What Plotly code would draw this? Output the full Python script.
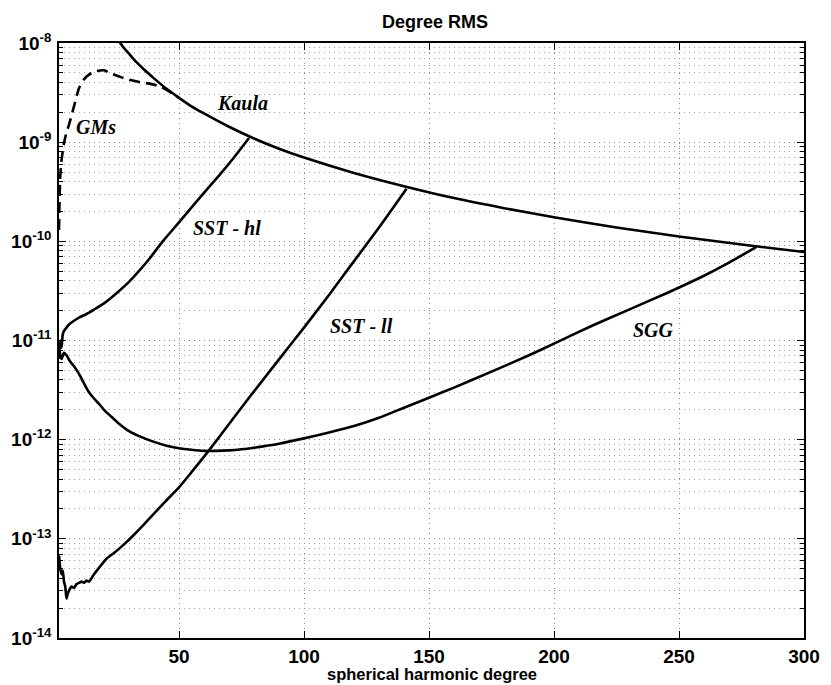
import plotly.graph_objects as go

# ---------------- data ----------------
kaula_deg = [24, 26, 28, 30, 33, 36, 40, 45, 50, 55, 60, 70, 80, 90, 100, 120, 140, 160, 180, 200, 225, 250, 275, 300]
kaula_rms = [1.22e-8, 1.04e-8, 8.9e-9, 7.8e-9, 6.4e-9, 5.4e-9, 4.4e-9, 3.45e-9, 2.8e-9, 2.3e-9, 1.95e-9,
             1.43e-9, 1.09e-9, 8.6e-10, 7.0e-10, 4.9e-10, 3.6e-10, 2.73e-10, 2.16e-10, 1.75e-10, 1.38e-10,
             1.12e-10, 9.3e-11, 7.8e-11]

gms_deg = [2, 2.2, 2.5, 3, 4, 5, 6, 8, 10, 12, 14, 17, 20, 23, 27, 31, 35, 39, 43, 46, 50]
gms_rms = [1.3e-10, 2.5e-10, 4.5e-10, 6.5e-10, 9.8e-10, 1.25e-9, 1.5e-9, 2.3e-9, 3.5e-9, 4.3e-9, 4.8e-9,
           5.2e-9, 5.3e-9, 4.9e-9, 4.5e-9, 4.2e-9, 4.0e-9, 3.85e-9, 3.6e-9, 3.25e-9, 2.8e-9]

sst_hl_deg = [2, 2.5, 3, 3.5, 4, 5, 6, 8, 10, 13, 16, 20, 25, 30, 33.3, 38, 43.5, 50, 58, 66, 72, 78]
sst_hl_rms = [6.5e-12, 1.0e-11, 8.5e-12, 1.15e-11, 1.25e-11, 1.35e-11, 1.45e-11, 1.58e-11, 1.7e-11, 1.85e-11,
              2.05e-11, 2.37e-11, 3.0e-11, 3.9e-11, 4.8e-11, 6.6e-11, 1.0e-10, 1.55e-10, 2.7e-10, 4.6e-10,
              7.0e-10, 1.1e-9]

sst_ll_deg = [2, 2.5, 3, 3.5, 4, 4.5, 5, 5.5, 6, 7, 8, 9, 10, 11, 12, 13, 14, 16, 18, 21, 24, 28, 32, 36, 40,
              45, 50, 55, 62, 71, 79, 90, 100, 110, 118, 130, 141]
sst_ll_rms = [6.8e-14, 5.0e-14, 4.4e-14, 4.8e-14, 3.7e-14, 3.3e-14, 2.5e-14, 2.8e-14, 3.0e-14, 3.3e-14, 3.2e-14,
              3.5e-14, 3.6e-14, 3.7e-14, 3.6e-14, 3.8e-14, 3.7e-14, 4.4e-14, 5.1e-14, 6.3e-14, 7.2e-14, 8.8e-14,
              1.1e-13, 1.4e-13, 1.8e-13, 2.45e-13, 3.3e-13, 4.7e-13, 7.8e-13, 1.55e-12, 2.85e-12, 6.45e-12,
              1.35e-11, 2.88e-11, 5.4e-11, 1.38e-10, 3.4e-10]

sgg_deg = [2, 3, 4, 5, 6, 7, 8, 9, 10, 12, 14, 16, 18, 20, 23, 26, 30, 35, 40, 45, 50, 55, 60, 65, 70, 75, 80,
           90, 100, 110, 120, 130, 140, 150, 160, 175, 190, 200, 215, 230, 245, 260, 270, 281]
sgg_rms = [8.5e-12, 6.5e-12, 7.5e-12, 7.1e-12, 6.4e-12, 5.9e-12, 5.5e-12, 5.05e-12, 4.6e-12, 3.7e-12, 3.0e-12,
           2.6e-12, 2.3e-12, 2.0e-12, 1.7e-12, 1.45e-12, 1.22e-12, 1.06e-12, 9.5e-13, 8.7e-13, 8.2e-13, 7.9e-13,
           7.7e-13, 7.7e-13, 7.8e-13, 8.0e-13, 8.3e-13, 9.1e-13, 1.03e-12, 1.18e-12, 1.37e-12, 1.66e-12,
           2.1e-12, 2.65e-12, 3.35e-12, 4.85e-12, 7.1e-12, 9.3e-12, 1.4e-11, 2.05e-11, 3.0e-11, 4.5e-11,
           6.1e-11, 8.8e-11]

x_ticks = [50, 100, 150, 200, 250, 300]
y_exps = [-14, -13, -12, -11, -10, -9, -8]
y_ticks = [10.0 ** e for e in y_exps]
y_ticktext = [f"<b>10<sup>{e}</sup></b>" for e in y_exps]
y_minor = [m * 10.0 ** e for e in y_exps[:-1] for m in range(2, 10)]

labels = [("Kaula", 75.5, -8.605), ("GMs", 16.8, -8.847), ("SST - hl", 69.0, -9.865),
          ("SST - ll", 122.8, -10.854), ("SGG", 239.6, -10.894)]

# ---------------- figure ----------------
fig = go.Figure()
line = dict(color="black", width=2.6, shape="spline", smoothing=0.6)
fig.add_trace(go.Scatter(x=kaula_deg, y=kaula_rms, mode="lines", line=line, name="Kaula"))
fig.add_trace(go.Scatter(x=gms_deg, y=gms_rms, mode="lines",
                         line=dict(color="black", width=2.6, dash="11px,6px", shape="spline", smoothing=0.6),
                         name="GMs"))
fig.add_trace(go.Scatter(x=sst_hl_deg, y=sst_hl_rms, mode="lines", line=line, name="SST-hl"))
fig.add_trace(go.Scatter(x=sst_ll_deg, y=sst_ll_rms, mode="lines", line=line, name="SST-ll"))
fig.add_trace(go.Scatter(x=sgg_deg, y=sgg_rms, mode="lines", line=line, name="SGG"))

for txt, lx, ly in labels:
    fig.add_annotation(x=lx, y=ly, xref="x", yref="y", text=f"<b><i>{txt}</i></b>", showarrow=False,
                       font=dict(family="Liberation Serif, Times New Roman, serif", size=20, color="black"))

fig.add_annotation(x=0.505, y=1, xref="paper", yref="paper", yshift=21, text="<b>Degree RMS</b>",
                   showarrow=False, yanchor="middle",
                   font=dict(family="Liberation Sans, Arial, sans-serif", size=18, color="black"))
fig.add_annotation(x=0.5, y=0, xref="paper", yref="paper", yshift=-36, text="<b>spherical harmonic degree</b>",
                   showarrow=False, yanchor="middle",
                   font=dict(family="Liberation Sans, Arial, sans-serif", size=16.5, color="black"))

grid_common = dict(showgrid=True, gridcolor="#8a8a8a", griddash="1px,4px", gridwidth=1)
tick_font = dict(family="Liberation Sans, Arial, sans-serif", size=19, color="black")

fig.update_xaxes(range=[2, 300], tickmode="array", tickvals=x_ticks,
                 ticktext=[f"<b>{v}</b>" for v in x_ticks],
                 ticks="inside", ticklen=7, tickwidth=1.3, tickcolor="black",
                 showline=True, linecolor="black", linewidth=1.5, mirror="ticks",
                 zeroline=False, tickfont=tick_font, automargin=False, ticklabelstandoff=0,
                 **grid_common)
fig.update_yaxes(type="log", range=[-14, -8], tickmode="array", tickvals=y_ticks, ticktext=y_ticktext,
                 ticks="inside", ticklen=7, tickwidth=1.3, tickcolor="black",
                 showline=True, linecolor="black", linewidth=1.5, mirror="ticks",
                 zeroline=False, tickfont=tick_font, automargin=False, ticklabelstandoff=2,
                 minor=dict(tickmode="array", tickvals=y_minor, ticks="inside", ticklen=4, tickcolor="black",
                            showgrid=True, gridcolor="#a0a0a0", griddash="1px,4px", gridwidth=1),
                 **grid_common)

# page body has an 8px margin, so the figure is sized to fit the 831x685 window
fig.update_layout(width=823, height=677, margin=dict(l=51, r=27, t=35, b=47),
                  paper_bgcolor="white", plot_bgcolor="white", showlegend=False)

fig.write_html("out.html")
